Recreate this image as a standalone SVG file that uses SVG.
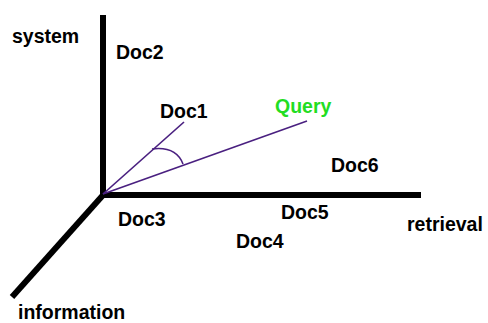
<svg xmlns="http://www.w3.org/2000/svg" width="488" height="323" viewBox="0 0 488 323">
<style>
.axis{stroke:#000;stroke-width:6;fill:none}
.vec{stroke:#4a2080;stroke-width:1.6;fill:none}
text{font-family:"Liberation Sans",Arial,sans-serif;font-weight:bold;font-size:19.5px;fill:#000}
.q{fill:#22dd22}
</style>
<rect width="488" height="323" fill="#fff"/>
<g id="connectors">
<line class="axis" x1="103" y1="15" x2="103" y2="198"/>
<line class="axis" x1="100" y1="195" x2="421" y2="195"/>
<line class="axis" x1="104" y1="194" x2="12" y2="297"/>
<line class="vec" x1="103" y1="194" x2="184" y2="122"/>
<line class="vec" x1="103" y1="194" x2="307" y2="121"/>
<path class="vec" d="M152,149 Q176,146 183,164"/>
</g>
<g id="system"><text x="12" y="43">system</text></g>
<g id="information"><text x="18" y="319">information</text></g>
<g id="retrieval"><text x="407" y="231">retrieval</text></g>
<g id="doc1"><text x="160" y="118">Doc1</text></g>
<g id="doc2"><text x="116" y="59">Doc2</text></g>
<g id="doc3"><text x="118" y="226">Doc3</text></g>
<g id="doc4"><text x="236" y="248">Doc4</text></g>
<g id="doc5"><text x="281" y="219">Doc5</text></g>
<g id="doc6"><text x="331" y="172">Doc6</text></g>
<g id="query"><text class="q" x="275" y="113">Query</text></g>
</svg>
